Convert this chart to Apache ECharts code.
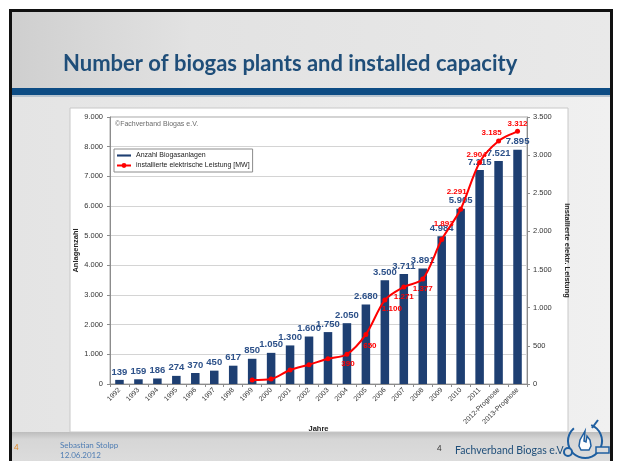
<!DOCTYPE html>
<html>
<head>
<meta charset="utf-8">
<script src="https://cdn.jsdelivr.net/npm/echarts@6/dist/echarts.min.js"></script>
<style>
html,body{margin:0;padding:0;background:#fff;}
#c{width:620px;height:461px;}
</style>
</head>
<body>
<div id="c"></div>
<script>
// ---- data ----
const categories = ['1992','1993','1994','1995','1996','1997','1998','1999','2000','2001','2002','2003','2004','2005','2006','2007','2008','2009','2010','2011','2012-Prognose','2013-Prognose'];
const plants = [139,159,186,274,370,450,617,850,1050,1300,1600,1750,2050,2680,3500,3711,3891,4984,5905,7215,7521,7895];
const capacity = [null,null,null,null,null,null,null,52,65,183,253,331,390,650,1100,1271,1377,1893,2291,2904,3185,3312];
const leftTicks = {min:0, max:9000, interval:1000};
const rightTicks = {min:0, max:3500, interval:500};
const seriesNames = ['Anzahl Biogasanlagen','installierte elektrische Leistung [MW]'];

function de(v){ return String(v).replace(/\B(?=(\d{3})+(?!\d))/g,'.'); }

// label offsets for the capacity line (visual placement only)
const capLabelFirst = 12;
const capOffsets = {12:[1,10],13:[4,11],14:[7,9],15:[0,10],16:[0,10],17:[2,-16],18:[-4,-17],19:[-3,-8],20:[-7,-8],21:[0,-8]};

const capData = capacity.map((v,i)=>{
  if (v===null) return null;
  const o = {value:v};
  if (i>=capLabelFirst){
    o.label = {show:true, position:'inside', offset:capOffsets[i]};
  }
  return o;
});

const chart = echarts.init(document.getElementById('c'), null, {renderer:'canvas'});
const font = 'Liberation Sans, Arial, sans-serif';
const option = {
  animation:false,
  textStyle:{fontFamily:font},
  graphic:[
    // slide frame
    {type:'rect', z:-20, silent:true, shape:{x:9,y:9,width:604,height:452}, style:{fill:'#111'}},
    {type:'rect', z:-19, silent:true, shape:{x:12,y:12,width:598,height:449},
      style:{fill:new echarts.graphic.LinearGradient(0,0,1,0,[{offset:0,color:'#cfcfcf'},{offset:0.3,color:'#e2e2e2'},{offset:1,color:'#e9e9e9'}])}},
    {type:'rect', z:-18, silent:true, shape:{x:12,y:97,width:598,height:335},
      style:{fill:new echarts.graphic.LinearGradient(0,0,1,0,[{offset:0,color:'#e4e4e4'},{offset:1,color:'#f0f0f0'}])}},
    {type:'rect', z:-18, silent:true, shape:{x:12,y:432,width:598,height:29},
      style:{fill:new echarts.graphic.LinearGradient(0,0,0,1,[{offset:0,color:'#bdbdbd'},{offset:0.25,color:'#d6d6d6'},{offset:1,color:'#dcdcdc'}])}},
    {type:'rect', z:-17, silent:true, shape:{x:12,y:88,width:598,height:7}, style:{fill:'#0d4c84'}},
    {type:'rect', z:-17, silent:true, shape:{x:12,y:95,width:598,height:2}, style:{fill:'#b8c4cf'}},
    // chart box
    {type:'rect', z:-15, silent:true, shape:{x:70,y:108,width:498,height:324}, style:{fill:'#ffffff', stroke:'#c8c8c8', lineWidth:1}},
    // title
    {type:'text', z:50, x:63, y:53, style:{text:'Number of biogas plants and installed capacity', fill:'#1f4e79', font:'bold 22px Lato, "Open Sans", sans-serif'}},
    // copyright
    {type:'text', z:50, x:115, y:121, style:{text:'\u00A9Fachverband Biogas e.V.', fill:'#6b6b6b', font:'7px "Liberation Sans", Arial, sans-serif'}},
    // footer
    {type:'text', z:50, x:14, y:443, style:{text:'4', fill:'#e08a2a', font:'8px Lato, sans-serif'}},
    {type:'text', z:50, x:60, y:441, style:{text:'Sebastian Stolpp', fill:'#4f7db3', font:'8px Lato, sans-serif'}},
    {type:'text', z:50, x:60, y:451, style:{text:'12.06.2012', fill:'#4f7db3', font:'8px Lato, sans-serif'}},
    {type:'text', z:50, x:437, y:444, style:{text:'4', fill:'#333', font:'8px Lato, sans-serif'}},
    {type:'text', z:50, x:455, y:445, style:{text:'Fachverband Biogas e.V.', fill:'#1f4e79', font:'10.5px Lato, sans-serif'}},
    // logo
    {type:'arc', z:50, silent:true, shape:{cx:585,cy:441,r:17,startAngle:-1.2,endAngle:4.0}, style:{stroke:'#1f5fa0', lineWidth:2, fill:null}},
    {type:'polygon', z:51, silent:true, shape:{points:[[585,431],[580,440],[579,446],[581,450],[589,450],[591,446],[590,440],[587,436],[586,442],[584,441]]}, style:{stroke:'#1f5fa0', lineWidth:1.5, fill:'#ffffff'}},
    {type:'circle', z:51, silent:true, shape:{cx:568,cy:452,r:4}, style:{stroke:'#1f5fa0', lineWidth:2, fill:'#dcdcdc'}},
    {type:'rect', z:51, silent:true, shape:{x:596,y:447,width:13,height:6}, style:{stroke:'#1f5fa0', lineWidth:1.5, fill:'#dcdcdc'}},
    {type:'line', z:51, silent:true, shape:{x1:592,y1:428,x2:598,y2:420}, style:{stroke:'#1f5fa0', lineWidth:2}}
  ],
  legend:{
    left:114, top:149, orient:'vertical',
    backgroundColor:'#fff', borderColor:'#8c8c8c', borderWidth:1,
    padding:[3,3,3,2], itemGap:3, itemWidth:14, itemHeight:6,
    textStyle:{fontSize:7, color:'#222', fontFamily:font},
    data:[
      {name:seriesNames[0], icon:'path://M0,0h20v3h-20z'},
      {name:seriesNames[1]}
    ]
  },
  grid:{left:110, right:93, top:117, bottom:77, show:true, borderColor:'#a6a6a6', borderWidth:1, backgroundColor:'transparent'},
  xAxis:{
    type:'category', data:categories,
    name:'Jahre', nameLocation:'middle', nameGap:41, nameMoveOverlap:false,
    nameTextStyle:{fontSize:7.5, fontWeight:'bold', color:'#222'},
    axisLine:{lineStyle:{color:'#8c8c8c'}},
    axisTick:{show:true, length:3, lineStyle:{color:'#8c8c8c'}},
    axisLabel:{rotate:45, fontSize:7, color:'#333', margin:5, interval:0}
  },
  yAxis:[
    {type:'value', min:leftTicks.min, max:leftTicks.max, interval:leftTicks.interval,
     name:'Anlagenzahl', nameLocation:'middle', nameGap:30, nameRotate:90, nameMoveOverlap:false,
     nameTextStyle:{fontSize:7.5, fontWeight:'bold', color:'#222'},
     axisLine:{show:true, lineStyle:{color:'#8c8c8c'}},
     axisTick:{show:true, length:3, lineStyle:{color:'#8c8c8c'}},
     axisLabel:{fontSize:7.5, color:'#333', margin:7, formatter:de},
     splitLine:{lineStyle:{color:'#d4d4d4'}}},
    {type:'value', min:rightTicks.min, max:rightTicks.max, interval:rightTicks.interval,
     name:'installierte elektr. Leistung', nameLocation:'middle', nameGap:33, nameRotate:-90,
     nameTextStyle:{fontSize:7.5, fontWeight:'bold', color:'#222'},
     axisLine:{show:true, lineStyle:{color:'#8c8c8c'}},
     axisTick:{show:true, length:3, lineStyle:{color:'#8c8c8c'}},
     axisLabel:{fontSize:7.5, color:'#333', margin:6, formatter:de},
     splitLine:{show:false}}
  ],
  series:[
    {name:seriesNames[0], type:'bar', yAxisIndex:0, data:plants, barWidth:'45%',
     itemStyle:{color:'#1e3f72'},
     label:{show:true, position:'top', distance:3, fontSize:9.5, color:'#2d5189', fontWeight:'bold', formatter:p=>de(p.value)}},
    {name:seriesNames[1], type:'line', yAxisIndex:1, data:capData, connectNulls:false,
     smooth:0.3, symbol:'circle', symbolSize:5, showSymbol:true,
     lineStyle:{color:'#ff0000', width:2}, itemStyle:{color:'#ff0000'},
     label:{show:false, fontSize:8, fontWeight:'bold', color:'#ff0000', formatter:p=>de(p.value)},
     z:5}
  ]
};
chart.setOption(option);
</script>
</body>
</html>
